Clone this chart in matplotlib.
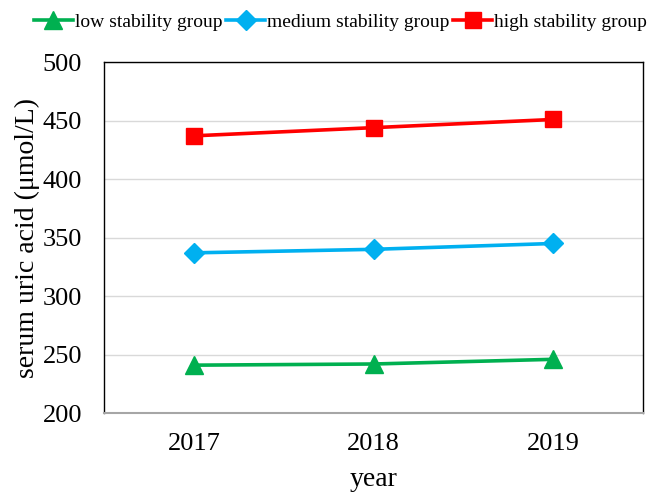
import matplotlib.pyplot as plt

years = ["2017", "2018", "2019"]
low = [241, 242, 246]
medium = [337, 340, 345]
high = [437, 444, 451]

plt.rcParams["font.family"] = ["Liberation Serif", "DejaVu Serif"]

fig = plt.figure(figsize=(6.51, 4.93), dpi=100)
ax = fig.add_axes([0.16, 0.162, 0.828, 0.712])

x = range(len(years))
ax.plot(x, low, color="#00B050", lw=2.6, marker="^", ms=13, label="low stability group")
ax.plot(x, medium, color="#00B0F0", lw=2.6, marker="D", ms=10.5, label="medium stability group")
ax.plot(x, high, color="#FF0000", lw=2.6, marker="s", ms=12, label="high stability group")

ax.set_xlim(-0.5, 2.5)
ax.set_ylim(200, 500)
ax.set_yticks(range(200, 501, 50))
ax.set_xticks(list(x))
ax.set_xticklabels(years)
ax.tick_params(length=0, labelsize=19, pad=14)
ax.tick_params(axis="y", pad=16)
ax.yaxis.grid(True, color="#D9D9D9", lw=1)
ax.set_axisbelow(True)
for s in ["left", "top", "right"]:
    ax.spines[s].set_color("black")
    ax.spines[s].set_linewidth(1)
ax.spines["bottom"].set_color("#A6A6A6")
ax.spines["bottom"].set_linewidth(1.5)

ax.set_xlabel("year", fontsize=20, labelpad=9)
ax.set_ylabel("serum uric acid (\u03bcmol/L)", fontsize=20, labelpad=2)

fig.legend(loc="center", bbox_to_anchor=(0.523, 0.955), ncol=3, frameon=False,
           fontsize=14, handlelength=2.0, handletextpad=0.1, columnspacing=0.2)

fig.savefig("out.png", dpi=100)
